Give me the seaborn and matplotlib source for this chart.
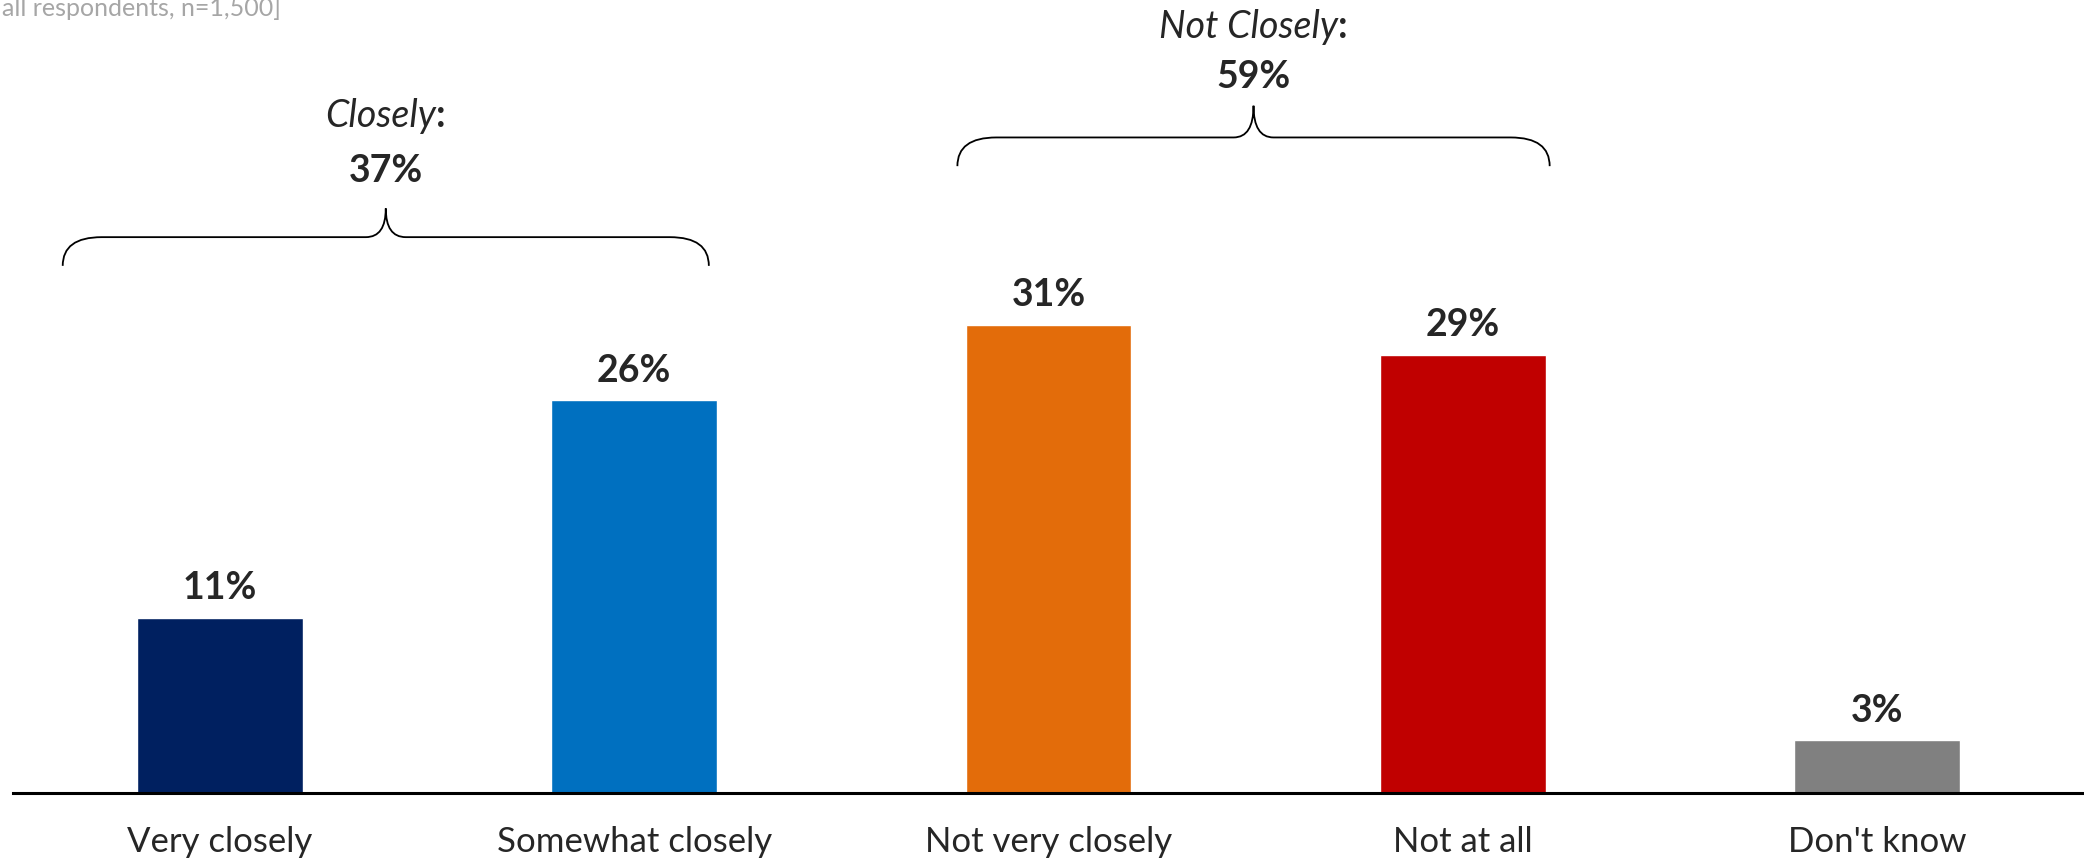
import matplotlib
matplotlib.use("Agg")
import matplotlib.pyplot as plt
from matplotlib.path import Path
from matplotlib.patches import PathPatch
import seaborn as sns
import pandas as pd

# data (bar heights as drawn in the reference, labels as printed)
categories = ["Very closely", "Somewhat closely", "Not very closely", "Not at all", "Don't know"]
values = [11.6, 26, 31, 29, 3.5]
value_labels = ["11%", "26%", "31%", "29%", "3%"]
bar_colors = ["#002060", "#0070C0", "#E36C0A", "#C00000", "#808080"]

group_names = ["Closely", "Not Closely"]
group_totals = [37, 59]
group_members = [[0, 1], [2, 3]]

base_note = "all respondents, n=1,500]"

df = pd.DataFrame({"category": categories, "pct": values})

sns.set_style("white")
plt.rcParams["font.family"] = ["Lato", "DejaVu Sans"]

fig = plt.figure(figsize=(20.84, 8.61), dpi=100)
ax = fig.add_axes([13 / 2084, 68 / 861, 2071 / 2084, 793 / 861])

sns.barplot(data=df, x="category", y="pct", hue="category", palette=bar_colors,
            width=0.4, legend=False, ax=ax, saturation=1)

for c, lab in zip(ax.containers, value_labels):
    ax.bar_label(c, labels=[lab], padding=9, fontsize=27, fontweight="bold")

ax.set_xlim(-0.5, 4.5)
ax.set_ylim(0, 52.5)
ax.set_xlabel("")
ax.set_ylabel("")
ax.set_yticks([])
ax.tick_params(axis="x", length=0, pad=24, labelsize=25)
for s in ["top", "left", "right"]:
    ax.spines[s].set_visible(False)
ax.spines["bottom"].set_linewidth(2.2)
ax.spines["bottom"].set_color("black")


# curly brace over each group
def brace(x0, x1, xc, yb, yh, yt, cw=0.094, tw=0.048):
    verts = [(x0, yb), (x0, yh), (x0 + cw, yh),
             (xc - tw, yh), (xc, yh), (xc, yt),
             (xc, yh), (xc + tw, yh),
             (x1 - cw, yh), (x1, yh), (x1, yb)]
    codes = [Path.MOVETO, Path.CURVE3, Path.CURVE3,
             Path.LINETO, Path.CURVE3, Path.CURVE3,
             Path.CURVE3, Path.CURVE3,
             Path.LINETO, Path.CURVE3, Path.CURVE3]
    ax.add_patch(PathPatch(Path(verts, codes), fill=False, lw=1.3, color="black"))


# bracket geometry (left pad, right pad) and levels (bottom, line, tip, total label, name label)
brace_pads = [(-0.38, 0.18), (-0.22, 0.21)]
brace_levels = [(34.9, 36.8, 38.7, 41.2, 44.8), (41.5, 43.4, 45.5, 47.4, 50.7)]

fig.canvas.draw()
renderer = fig.canvas.get_renderer()
for name, total, members, pads, lv in zip(group_names, group_totals, group_members,
                                           brace_pads, brace_levels):
    x0 = members[0] + pads[0]
    x1 = members[-1] + pads[1]
    xc = (x0 + x1) / 2
    yb, yh, yt, ytot, yname = lv
    brace(x0, x1, xc, yb, yh, yt)
    ax.text(xc, ytot, f"{total}%", ha="center", va="center", fontsize=27, fontweight="bold")
    colon = ax.text(0, 0, ":", fontsize=27, fontweight="bold")
    cw = colon.get_window_extent(renderer).width
    colon.remove()
    t = ax.annotate(name, (xc, yname), xytext=(-cw * 0.72 / 2, 0), textcoords="offset points",
                    ha="center", va="center", fontsize=27, style="italic")
    bb = t.get_window_extent(renderer)
    fx, fy = fig.transFigure.inverted().transform((bb.x1, (bb.y0 + bb.y1) / 2))
    fig.text(fx, fy, ":", ha="left", va="center", fontsize=27, fontweight="bold")

fig.text(2 / 2084, 1 - 16 / 861, base_note, ha="left", va="baseline",
         fontsize=18, color="#A6A6A6")

fig.savefig("out.png", dpi=100)
